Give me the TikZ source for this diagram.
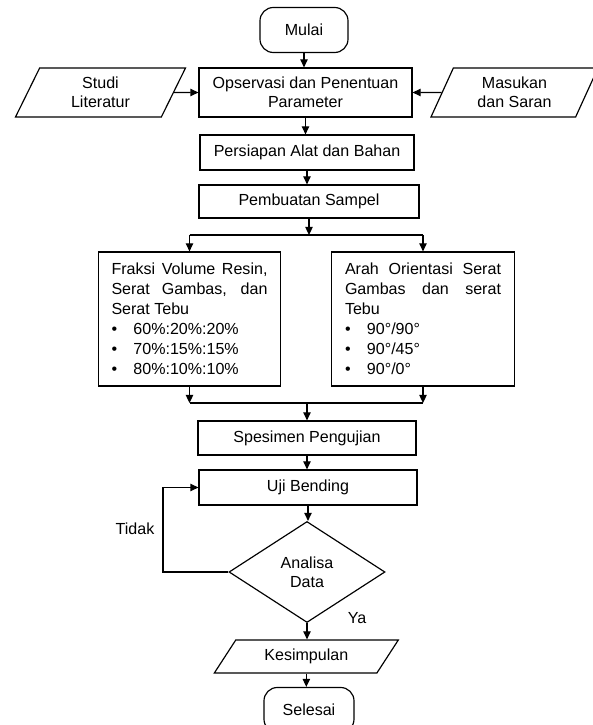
\documentclass[tikz,border=0pt]{standalone}
\usepackage{fontspec}
\setmainfont{Liberation Sans}
\usetikzlibrary{arrows.meta,calc,positioning,shapes.geometric}
\newcommand{\bulletline}[1]{\makebox[0.66cm][l]{\textbullet}#1}
\tikzset{
  wire/.style={black, line width=1pt},
  flow/.style={-{Triangle[length=2.4mm,width=2.2mm]}, line width=1pt},
  txt/.style={font=\fontsize{13.7}{16.5}\selectfont},
  process/.style={draw=black, line width=1pt, rectangle, align=center,
                  inner sep=2pt, txt},
  terminal/.style={process, rounded corners=4mm,
                   minimum width=2.64cm, minimum height=1.35cm},
  io/.style={draw=black, line width=1pt, trapezium, trapezium stretches body,
             align=center, inner sep=2pt, txt},
  decision/.style={draw=black, line width=1pt, diamond, align=center,
                   inner sep=1pt, txt},
  listbox/.style={draw=black, line width=1pt, rectangle, text width=4.68cm,
                  inner xsep=0.4cm, minimum height=4.02cm, align=justify,
                  font=\fontsize{13.7}{17}\selectfont},
  lab/.style={txt},
}

\begin{document}
\begin{tikzpicture}[x=1cm,y=1cm]
  \path[use as bounding box] (0,0) rectangle (17.79,21.75);

  % start, first step and the two inputs feeding it
  \node[terminal] (MUL) at (9.12,20.85) {Mulai};
  \node[process, minimum width=6.39cm, minimum height=1.47cm] (OBS) at (9.165,18.975)
    {Opservasi dan Penentuan\\Parameter};
  \node[io, trapezium left angle=56, trapezium right angle=124,
        minimum width=5.1cm, minimum height=1.47cm] (LIT) at (3.015,18.975)
    {Studi\\Literatur};
  \node[io, trapezium left angle=58, trapezium right angle=122,
        minimum width=5.01cm, minimum height=1.47cm] (SAR) at (15.435,18.975)
    {Masukan\\dan Saran};
  \draw[flow] (MUL.south) -- (MUL.south |- OBS.north);
  \draw[flow] (LIT.east) -- (OBS.west);
  \draw[flow] (SAR.west) -- (OBS.east);

  \node[process, minimum width=6.42cm, minimum height=1.05cm] (ALT) at (9.21,17.175)
    {Persiapan Alat dan Bahan};
  \node[process, minimum width=6.6cm, minimum height=0.99cm] (SMP) at (9.27,15.705)
    {Pembuatan Sampel};
  \draw[flow] (OBS.south) -- (OBS.south |- ALT.north);
  \draw[flow] (ALT.south) -- (ALT.south |- SMP.north);

  % the two sample variations
  \coordinate (split) at (9.27,14.70);
  \node[listbox] (FRK) at (5.685,12.18)
    {Fraksi Volume Resin, Serat Gambas, dan Serat Tebu\par
     \bulletline{60\%:20\%:20\%}\par
     \bulletline{70\%:15\%:15\%}\par
     \bulletline{80\%:10\%:10\%}};
  \node[listbox] (ORI) at (12.69,12.18)
    {Arah Orientasi Serat Gambas dan serat Tebu\par
     \bulletline{90°/90°}\par
     \bulletline{90°/45°}\par
     \bulletline{90°/0°}};
  \draw[flow] (SMP.south) -- (SMP.south |- split);
  \draw[wire] (FRK.north |- split) -- (ORI.north |- split);
  \draw[flow] (FRK.north |- split) -- (FRK.north);
  \draw[flow] (ORI.north |- split) -- (ORI.north);

  \coordinate (merge) at (9.21,9.66);
  \node[process, minimum width=6.54cm, minimum height=1.02cm] (SPC) at (9.21,8.61)
    {Spesimen Pengujian};
  \draw[flow] (FRK.south) -- (FRK.south |- merge);
  \draw[flow] (ORI.south) -- (ORI.south |- merge);
  \draw[wire] (FRK.south |- merge) -- (ORI.south |- merge);
  \draw[flow] (merge) -- (SPC.north);

  \node[process, minimum width=6.54cm, minimum height=1.05cm] (UJI) at (9.24,7.125)
    {Uji Bending};
  \draw[flow] (SPC.south) -- (SPC.south |- UJI.north);
  \node[decision, minimum width=4.68cm, minimum height=3.03cm] (ANL) at (9.21,4.59)
    {Analisa\\Data};
  \draw[flow] (UJI.south) -- (UJI.south |- ANL.north);

  % back to testing when the data are not accepted
  \coordinate (back) at (4.89,4.59);
  \draw[flow] (ANL.west) -- (back) |- (UJI.west);
  \node[lab] (TDK) at (4.05,5.88) {Tidak};

  \node[io, trapezium left angle=42.5, trapezium right angle=137.5,
        minimum width=5.52cm, minimum height=0.99cm] (KSM) at (9.19,2.055)
    {Kesimpulan};
  \draw[flow] (ANL.south) -- (ANL.south |- KSM.north);
  \node[lab] (YA) at (10.71,3.21) {Ya};
  \node[terminal, minimum width=2.7cm] (SLS) at (9.27,0.45) {Selesai};
  \draw[flow] (KSM.south) -- (KSM.south |- SLS.north);
\end{tikzpicture}
\end{document}
